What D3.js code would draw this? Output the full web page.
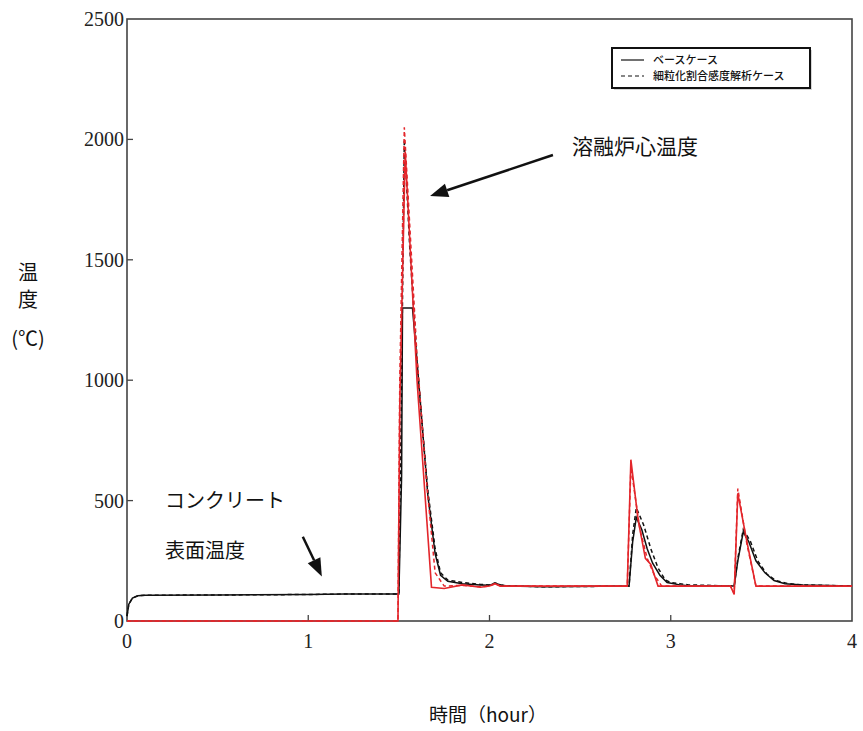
<!DOCTYPE html>
<html>
<head>
<meta charset="utf-8">
<script src="https://cdn.jsdelivr.net/npm/d3@7"></script>
<style>
  body { margin: 0; background: #fff; }
  .tick-label { font-family: "Liberation Serif", "DejaVu Serif", serif; font-size: 20px; fill: #222; }
  .jp { font-family: "Noto Sans CJK JP", sans-serif; fill: #111; }
</style>
</head>
<body>
<svg id="chart"></svg>
<script>
// time axis (hour) for each series, and temperature (°C)
const baseConcreteTime = [0, 0.01, 0.03, 0.06, 0.1, 0.5, 1.0, 1.2, 1.4, 1.5, 1.515, 1.52, 1.575, 1.6, 1.63, 1.66, 1.7, 1.73, 1.77, 1.85, 1.95, 2.0, 2.03, 2.06, 2.1, 2.3, 2.77, 2.79, 2.81, 2.84, 2.87, 2.9, 2.94, 2.98, 3.05, 3.1, 3.35, 3.37, 3.4, 3.43, 3.47, 3.52, 3.57, 3.63, 3.73, 4.0];
const baseConcreteTemp = [20, 70, 95, 105, 107, 108, 110, 112, 112, 112, 600, 1300, 1300, 1080, 800, 520, 280, 190, 165, 155, 150, 148, 158, 150, 145, 142, 145, 330, 430, 380, 300, 240, 190, 160, 150, 146, 145, 250, 370, 330, 250, 200, 168, 155, 150, 145];

const fineConcreteTime = [0, 0.01, 0.03, 0.06, 0.1, 0.5, 1.0, 1.2, 1.4, 1.5, 1.515, 1.53, 1.56, 1.6, 1.63, 1.66, 1.7, 1.73, 1.77, 1.85, 1.95, 2.0, 2.03, 2.06, 2.1, 2.3, 2.77, 2.79, 2.81, 2.85, 2.89, 2.93, 2.97, 3.0, 3.05, 3.1, 3.35, 3.37, 3.4, 3.44, 3.48, 3.53, 3.58, 3.65, 3.73, 4.0];
const fineConcreteTemp = [20, 70, 95, 105, 107, 108, 110, 112, 112, 112, 1000, 2000, 1550, 1080, 800, 540, 300, 200, 170, 160, 152, 150, 158, 150, 146, 142, 145, 360, 470, 400, 300, 220, 170, 160, 155, 150, 145, 260, 380, 330, 250, 195, 168, 155, 150, 145];

const baseCoreTime = [0, 1.495, 1.505, 1.535, 1.6, 1.68, 1.75, 1.85, 1.95, 2.0, 2.03, 2.06, 2.1, 2.76, 2.78, 2.82, 2.86, 2.89, 2.93, 3.33, 3.35, 3.37, 3.42, 3.47, 4.0];
const baseCoreTemp = [0, 0, 900, 1950, 1000, 140, 135, 150, 140, 145, 155, 145, 145, 145, 670, 420, 260, 235, 145, 145, 110, 530, 330, 145, 145];

const fineCoreTime = [0, 1.495, 1.505, 1.53, 1.6, 1.65, 1.7, 1.75, 1.85, 1.95, 2.0, 2.03, 2.06, 2.1, 2.76, 2.78, 2.83, 2.87, 2.91, 2.95, 3.33, 3.35, 3.37, 3.42, 3.47, 4.0];
const fineCoreTemp = [0, 0, 1000, 2050, 1100, 600, 200, 145, 148, 142, 145, 155, 145, 145, 145, 640, 380, 260, 190, 145, 145, 115, 550, 320, 145, 145];

const xTicks = [0, 1, 2, 3, 4];
const yTicks = [0, 500, 1000, 1500, 2000, 2500];

const legendLabels = ["ベースケース", "細粒化割合感度解析ケース"];
const yTitle = ["温", "度", "(℃)"];
const xTitle = "時間（hour）";
const coreLabel = "溶融炉心温度";
const concreteLabel = ["コンクリート", "表面温度"];
// arrows in data units: [t0, T0, t1, T1]
const coreArrow = [2.35, 1935, 1.672, 1765];
const concreteArrow = [0.97, 350, 1.075, 185];

const width = 863, height = 731;
const margin = { left: 127, right: 11, top: 19, bottom: 109 };

const svg = d3.select("#chart").attr("width", width).attr("height", height);

const x = d3.scaleLinear().domain([0, 4]).range([margin.left, width - margin.right]);
const y = d3.scaleLinear().domain([0, 2500]).range([height - margin.bottom - 1, margin.top]);

// frame
svg.append("rect")
  .attr("x", x(0)).attr("y", y(2500))
  .attr("width", x(4) - x(0)).attr("height", y(0) - y(2500))
  .attr("fill", "none").attr("stroke", "#444").attr("stroke-width", 1.6);

// ticks (inward)
svg.selectAll(".xt").data(xTicks.slice(1, -1)).enter().append("line")
  .attr("x1", d => x(d)).attr("x2", d => x(d))
  .attr("y1", y(0)).attr("y2", y(0) - 6)
  .attr("stroke", "#444").attr("stroke-width", 1.3);
svg.selectAll(".yt").data(yTicks.slice(1, -1)).enter().append("line")
  .attr("x1", x(0)).attr("x2", x(0) + 6)
  .attr("y1", d => y(d)).attr("y2", d => y(d))
  .attr("stroke", "#444").attr("stroke-width", 1.3);

svg.selectAll(".xl").data(xTicks).enter().append("text")
  .attr("class", "tick-label")
  .attr("x", d => x(d)).attr("y", y(0) + 27)
  .attr("text-anchor", "middle")
  .text(d => d);
svg.selectAll(".yl").data(yTicks).enter().append("text")
  .attr("class", "tick-label")
  .attr("x", x(0) - 3).attr("y", d => y(d) + 7)
  .attr("text-anchor", "end")
  .text(d => d);

// lines
const line = (ts, vs) => d3.line().x((d, i) => x(ts[i])).y(d => y(d))(vs);

svg.append("path").attr("d", line(fineConcreteTime, fineConcreteTemp))
  .attr("fill", "none").attr("stroke", "#111").attr("stroke-width", 1.5)
  .attr("stroke-dasharray", "4,3");
svg.append("path").attr("d", line(baseConcreteTime, baseConcreteTemp))
  .attr("fill", "none").attr("stroke", "#111").attr("stroke-width", 1.5);
svg.append("path").attr("d", line(fineCoreTime, fineCoreTemp))
  .attr("fill", "none").attr("stroke", "#e3262b").attr("stroke-width", 1.5)
  .attr("stroke-dasharray", "4,3");
svg.append("path").attr("d", line(baseCoreTime, baseCoreTemp))
  .attr("fill", "none").attr("stroke", "#e3262b").attr("stroke-width", 1.6);

// legend
const lg = svg.append("g");
lg.append("rect").attr("x", 614).attr("y", 50).attr("width", 198).attr("height", 40)
  .attr("fill", "#999").attr("opacity", 0.4);
lg.append("rect").attr("x", 612).attr("y", 48).attr("width", 198).attr("height", 40)
  .attr("fill", "#fff").attr("stroke", "#111").attr("stroke-width", 2);
legendLabels.forEach((lab, i) => {
  const ly = 60 + i * 16;
  lg.append("line").attr("x1", 621).attr("x2", 644).attr("y1", ly).attr("y2", ly)
    .attr("stroke", "#111").attr("stroke-width", 1.2)
    .attr("stroke-dasharray", i ? "4,3" : null);
  lg.append("text").attr("class", "jp").attr("x", 653).attr("y", ly + 4)
    .style("font-size", "11px").style("font-weight", 500).text(lab);
});

// arrows
function arrow(a) {
  const x0 = x(a[0]), y0 = y(a[1]), x1 = x(a[2]), y1 = y(a[3]);
  const ang = Math.atan2(y1 - y0, x1 - x0);
  const L = 18, W = 7;
  const bx = x1 - L * Math.cos(ang), by = y1 - L * Math.sin(ang);
  svg.append("line").attr("x1", x0).attr("y1", y0).attr("x2", bx).attr("y2", by)
    .attr("stroke", "#111").attr("stroke-width", 2.5);
  svg.append("polygon")
    .attr("points", [[x1, y1],
      [bx + W * Math.sin(ang), by - W * Math.cos(ang)],
      [bx - W * Math.sin(ang), by + W * Math.cos(ang)]].map(p => p.join(",")).join(" "))
    .attr("fill", "#111");
}
arrow(coreArrow);
arrow(concreteArrow);

svg.append("text").attr("class", "jp").attr("x", 572).attr("y", 154)
  .style("font-size", "21px").text(coreLabel);
concreteLabel.forEach((t, i) => {
  svg.append("text").attr("class", "jp").attr("x", 165).attr("y", 508 + i * 50)
    .style("font-size", "20px").text(t);
});

// axis titles
yTitle.forEach((t, i) => {
  svg.append("text").attr("class", "jp").attr("x", 28).attr("y", [280, 307, 346][i])
    .attr("text-anchor", "middle").style("font-size", "20px").text(t);
});
svg.append("text").attr("class", "jp").attr("x", 488).attr("y", 722)
  .attr("text-anchor", "middle").style("font-size", "19px").text(xTitle);
</script>
</body>
</html>
